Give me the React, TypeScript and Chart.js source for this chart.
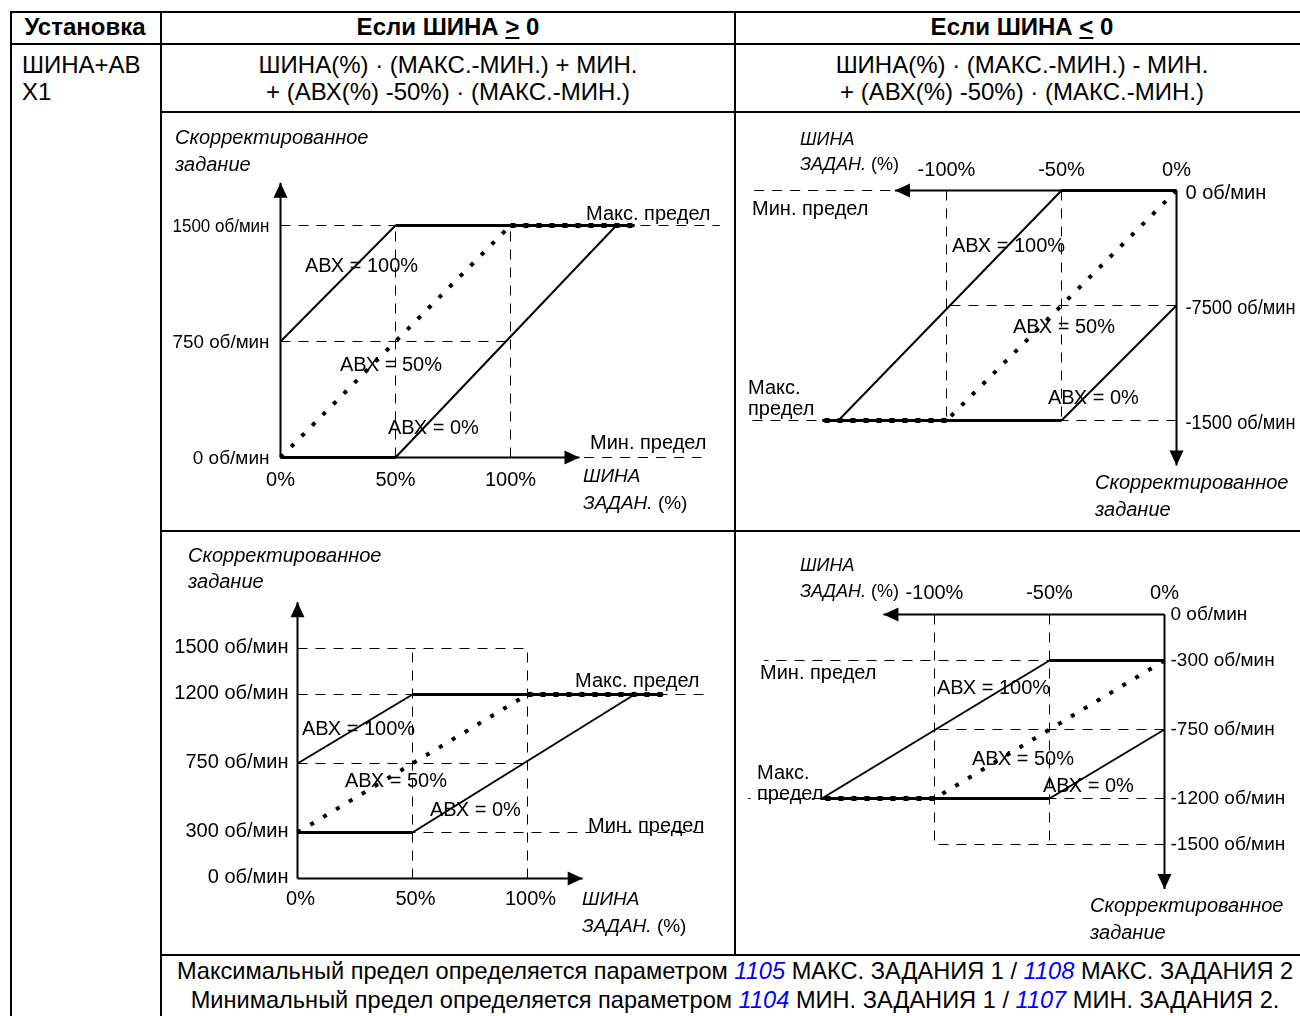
import React, { useEffect, useRef } from "react";
import { Chart, registerables } from "chart.js";

Chart.register(...registerables);

// ================= DATA =================
// Diagram A: ШИНА >= 0, МИН = 0, МАКС = 1500
const aXTicks = [0, 50, 100];
const aXTickLabels = ["0%", "50%", "100%"];
const aYTicks = [0, 750, 1500];
const aYTickLabels = ["0 об/мин", "750 об/мин", "1500 об/мин"];
const aAbx100 = [[0, 750], [50, 1500]];
const aAbx50 = [[0, 0], [100, 1500]];
const aAbx0 = [[50, 0], [146, 1500]];
const aMaxLimit = [[50, 1500], [154, 1500]];
const aMaxLimitDotted = [[100, 1500], [154, 1500]];
const aMinLimit = [[0, 0], [50, 0]];
const aGuides = [
  [[0, 1500], [191, 1500]],
  [[0, 750], [100, 750]],
  [[50, 0], [50, 1500]],
  [[100, 0], [100, 1500]],
  [[132, 0], [183, 0]],
];
const aXAxis = [[0, 0], [130, 0]];
const aYAxis = [[0, 0], [0, 1777]];

// Diagram B: ШИНА <= 0, МИН = 0, МАКС = 1500
const bXTicks = [0, -50, -100];
const bXTickLabels = ["0%", "-50%", "-100%"];
const bYTicks = [0, -750, -1500];
const bYTickLabels = ["0 об/мин", "-7500 об/мин", "-1500 об/мин"];
const bAbx100 = [[-50, 0], [-147, -1500]];
const bAbx50 = [[0, 0], [-100, -1500]];
const bAbx0 = [[0, -750], [-50, -1500]];
const bMaxLimit = [[-50, -1500], [-154, -1500]];
const bMaxLimitDotted = [[-100, -1500], [-154, -1500]];
const bMinLimit = [[0, 0], [-50, 0]];
const bGuides = [
  [[-124.5, 0], [-184, 0]],
  [[0, -750], [-100, -750]],
  [[0, -1500], [-186, -1500]],
  [[-100, 0], [-100, -1500]],
  [[-50, 0], [-50, -1500]],
];
const bXAxis = [[0, 0], [-122.4, 0]];
const bYAxis = [[0, 0], [0, -1793]];

// Diagram C: ШИНА >= 0, МИН = 300, МАКС = 1200
const cXTicks = [0, 50, 100];
const cXTickLabels = ["0%", "50%", "100%"];
const cYTicks = [0, 300, 750, 1200, 1500];
const cYTickLabels = ["0 об/мин", "300 об/мин", "750 об/мин", "1200 об/мин", "1500 об/мин"];
const cAbx100 = [[0, 750], [50, 1200]];
const cAbx50 = [[0, 300], [100, 1200]];
const cAbx0 = [[50, 300], [146.5, 1200]];
const cMaxLimit = [[50, 1200], [159, 1200]];
const cMaxLimitDotted = [[100, 1200], [159, 1200]];
const cMinLimit = [[0, 300], [50, 300]];
const cGuides = [
  [[0, 1500], [100, 1500]],
  [[0, 1200], [178, 1200]],
  [[0, 750], [100, 750]],
  [[0, 300], [177, 300]],
  [[50, 0], [50, 1500]],
  [[100, 0], [100, 1500]],
];
const cXAxis = [[0, 0], [124, 0]];
const cYAxis = [[0, 0], [0, 1802]];

// Diagram D: ШИНА <= 0, МИН = 300, МАКС = 1200
const dXTicks = [0, -50, -100];
const dXTickLabels = ["0%", "-50%", "-100%"];
const dYTicks = [0, -300, -750, -1200, -1500];
const dYTickLabels = ["0 об/мин", "-300 об/мин", "-750 об/мин", "-1200 об/мин", "-1500 об/мин"];
const dAbx100 = [[-50, -300], [-149, -1200]];
const dAbx50 = [[0, -300], [-100, -1200]];
const dAbx0 = [[0, -750], [-50, -1200]];
const dMaxLimit = [[-50, -1200], [-149, -1200]];
const dMaxLimitDotted = [[-100, -1200], [-149, -1200]];
const dMinLimit = [[0, -300], [-50, -300]];
const dGuides = [
  [[0, -300], [-174, -300]],
  [[0, -750], [-100, -750]],
  [[0, -1200], [-181, -1200]],
  [[0, -1500], [-100, -1500]],
  [[-100, 0], [-100, -1500]],
  [[-50, 0], [-50, -1500]],
];
const dXAxis = [[0, 0], [-122.2, 0]];
const dYAxis = [[0, 0], [0, -1790]];

// Text strings
const txtCorr = "Скорректированное";
const txtTask = "задание";
const txtBus = "ШИНА";
const txtBusRef = "ЗАДАН.";
const txtPct = " (%)";
const txtMax = "Макс. предел";
const txtMin = "Мин. предел";
const txtMaxA = "Макс.";
const txtMaxB = "предел";
const abxLabels = ["АВХ = 100%", "АВХ = 50%", "АВХ = 0%"];

// ================= DRAWING =================
const FAMILY = "'Liberation Sans', Arial, Helvetica, sans-serif";
const font = (size: number, italic?: boolean) => `${italic ? "italic " : ""}${size}px ${FAMILY}`;

type Seg = { s: string; i?: boolean };
type Txt = { segs: Seg[]; x: number; y: number; size?: number };
type Spec = {
  rect: { left: number; top: number; w: number; h: number };
  x0: number; y0: number; kx: number; ky: number;
  axes: number[][][];
  guides: number[][][];
  thin: number[][][];
  bold: number[][][];
  dotted: number[][];
  dottedBold: number[][];
  xTicks: number[]; xTickLabels: string[]; xLabelDy: number; xLabelDx: number;
  yTicks: number[]; yTickLabels: string[]; yLabelDx: number; yLabelDy: number; yRight: boolean;
  yFont: number; yMaxW?: number;
  texts: Txt[];
};

const P = (pts: number[][]) => pts.map(([x, y]) => ({ x, y }));

function ds(pts: number[][], width: number, dash: number[] = []) {
  return {
    data: P(pts),
    borderColor: "#000",
    backgroundColor: "#000",
    borderWidth: width,
    borderDash: dash,
    borderCapStyle: "butt",
    borderJoinStyle: "miter",
    pointRadius: 0,
    pointHoverRadius: 0,
    fill: false,
    tension: 0,
  };
}

function drawExtras(chart: any, spec: Spec) {
  const ctx = chart.ctx as CanvasRenderingContext2D;
  const xs = chart.scales.x;
  const ys = chart.scales.y;
  const px = (v: number) => xs.getPixelForValue(v);
  const py = (v: number) => ys.getPixelForValue(v);
  ctx.save();
  ctx.fillStyle = "#000";
  // arrow heads
  for (const ax of spec.axes) {
    const a = ax[ax.length - 2];
    const b = ax[ax.length - 1];
    const x1 = px(a[0]), y1 = py(a[1]), x2 = px(b[0]), y2 = py(b[1]);
    const L = Math.hypot(x2 - x1, y2 - y1);
    const dx = (x2 - x1) / L, dy = (y2 - y1) / L;
    const bx = x2 - dx * 15, by = y2 - dy * 15;
    ctx.beginPath();
    ctx.moveTo(x2, y2);
    ctx.lineTo(bx - dy * 7, by + dx * 7);
    ctx.lineTo(bx + dy * 7, by - dx * 7);
    ctx.closePath();
    ctx.fill();
  }
  ctx.textBaseline = "middle";
  const ox = px(0), oy = py(0);
  ctx.font = font(20);
  spec.xTicks.forEach((t, i) => {
    ctx.textAlign = "center";
    ctx.fillText(spec.xTickLabels[i], px(t) + spec.xLabelDx, oy + spec.xLabelDy);
  });
  ctx.font = font(spec.yFont);
  spec.yTicks.forEach((t, i) => {
    ctx.textAlign = spec.yRight ? "left" : "right";
    if (spec.yMaxW) ctx.fillText(spec.yTickLabels[i], ox + spec.yLabelDx, py(t) + spec.yLabelDy, spec.yMaxW);
    else ctx.fillText(spec.yTickLabels[i], ox + spec.yLabelDx, py(t) + spec.yLabelDy);
  });
  ctx.textAlign = "left";
  for (const t of spec.texts) {
    let x = t.x - spec.rect.left;
    const y = t.y - spec.rect.top;
    for (const sg of t.segs) {
      ctx.font = font(t.size ?? 20, sg.i);
      ctx.fillText(sg.s, x, y);
      x += ctx.measureText(sg.s).width;
    }
  }
  ctx.restore();
}

function buildConfig(spec: Spec): any {
  const { rect, x0, y0, kx, ky } = spec;
  const xmin = (rect.left - x0) / kx;
  const xmax = (rect.left + rect.w - x0) / kx;
  const ymax = (y0 - rect.top) / ky;
  const ymin = (y0 - (rect.top + rect.h)) / ky;
  const datasets: any[] = [];
  datasets.push(ds(spec.dottedBold, 5, [5, 8]));
  datasets.push(ds(spec.dotted, 4, [4, 11]));
  spec.bold.forEach((b) => datasets.push(ds(b, 3)));
  spec.thin.forEach((b) => datasets.push(ds(b, 2)));
  spec.axes.forEach((b) => datasets.push(ds(b, 2)));
  spec.guides.forEach((b) => datasets.push(ds(b, 1, [10, 8])));
  return {
    type: "line",
    data: { datasets },
    options: {
      responsive: false,
      maintainAspectRatio: false,
      animation: false,
      events: [],
      layout: { padding: 0 },
      plugins: { legend: { display: false }, tooltip: { enabled: false } },
      scales: {
        x: { type: "linear", min: xmin, max: xmax, display: false },
        y: { type: "linear", min: ymin, max: ymax, display: false },
      },
    },
    plugins: [
      {
        id: "schematic",
        afterDatasetsDraw(chart: any) {
          drawExtras(chart, spec);
        },
      },
    ],
  };
}

const specA: Spec = {
  rect: { left: 162, top: 113, w: 572, h: 417 },
  x0: 280.5, y0: 457.5, kx: 2.3, ky: 116 / 750,
  axes: [aXAxis, aYAxis],
  guides: aGuides,
  thin: [aAbx100, aAbx0],
  bold: [aMaxLimit, aMinLimit],
  dotted: aAbx50,
  dottedBold: aMaxLimitDotted,
  xTicks: aXTicks, xTickLabels: aXTickLabels, xLabelDy: 23, xLabelDx: 0,
  yTicks: aYTicks, yTickLabels: aYTickLabels, yLabelDx: -11, yLabelDy: 1, yRight: false,
  yFont: 19, yMaxW: 97,
  texts: [
    { segs: [{ s: txtCorr, i: true }], x: 175, y: 138 },
    { segs: [{ s: txtTask, i: true }], x: 175, y: 165 },
    { segs: [{ s: txtMax }], x: 586, y: 214 },
    { segs: [{ s: txtMin }], x: 590, y: 443 },
    { segs: [{ s: txtBus, i: true }], x: 583, y: 477, size: 19 },
    { segs: [{ s: txtBusRef, i: true }, { s: txtPct }], x: 583, y: 504, size: 19 },
    { segs: [{ s: abxLabels[0] }], x: 305, y: 266 },
    { segs: [{ s: abxLabels[1] }], x: 340, y: 365 },
    { segs: [{ s: abxLabels[2] }], x: 388, y: 428 },
  ],
};

const specB: Spec = {
  rect: { left: 736, top: 113, w: 564, h: 417 },
  x0: 1176.5, y0: 190.5, kx: 2.3, ky: 115 / 750,
  axes: [bXAxis, bYAxis],
  guides: bGuides,
  thin: [bAbx100, bAbx0],
  bold: [bMaxLimit, bMinLimit],
  dotted: bAbx50,
  dottedBold: bMaxLimitDotted,
  xTicks: bXTicks, xTickLabels: bXTickLabels, xLabelDy: -20, xLabelDx: 0,
  yTicks: bYTicks, yTickLabels: bYTickLabels, yLabelDx: 9, yLabelDy: 3, yRight: true,
  yFont: 20, yMaxW: 110,
  texts: [
    { segs: [{ s: txtBus, i: true }], x: 800, y: 140, size: 18 },
    { segs: [{ s: txtBusRef, i: true }, { s: txtPct }], x: 800, y: 165, size: 18 },
    { segs: [{ s: txtMin }], x: 752, y: 209 },
    { segs: [{ s: txtMaxA }], x: 748, y: 388 },
    { segs: [{ s: txtMaxB }], x: 748, y: 409 },
    { segs: [{ s: abxLabels[0] }], x: 952, y: 246 },
    { segs: [{ s: abxLabels[1] }], x: 1013, y: 327 },
    { segs: [{ s: abxLabels[2] }], x: 1048, y: 398 },
    { segs: [{ s: txtCorr, i: true }], x: 1095, y: 483 },
    { segs: [{ s: txtTask, i: true }], x: 1095, y: 510 },
  ],
};

const specC: Spec = {
  rect: { left: 162, top: 532, w: 572, h: 422 },
  x0: 297.5, y0: 878.5, kx: 2.3, ky: 230 / 1500,
  axes: [cXAxis, cYAxis],
  guides: cGuides,
  thin: [cAbx100, cAbx0],
  bold: [cMaxLimit, cMinLimit],
  dotted: cAbx50,
  dottedBold: cMaxLimitDotted,
  xTicks: cXTicks, xTickLabels: cXTickLabels, xLabelDy: 21, xLabelDx: 3,
  yTicks: cYTicks, yTickLabels: cYTickLabels, yLabelDx: -9, yLabelDy: -1, yRight: false,
  yFont: 20,
  texts: [
    { segs: [{ s: txtCorr, i: true }], x: 188, y: 556 },
    { segs: [{ s: txtTask, i: true }], x: 188, y: 582 },
    { segs: [{ s: txtMax }], x: 575, y: 681 },
    { segs: [{ s: txtMin }], x: 588, y: 826 },
    { segs: [{ s: txtBus, i: true }], x: 582, y: 900, size: 19 },
    { segs: [{ s: txtBusRef, i: true }, { s: txtPct }], x: 582, y: 927, size: 19 },
    { segs: [{ s: abxLabels[0] }], x: 302, y: 729 },
    { segs: [{ s: abxLabels[1] }], x: 345, y: 781 },
    { segs: [{ s: abxLabels[2] }], x: 430, y: 810 },
  ],
};

const specD: Spec = {
  rect: { left: 736, top: 532, w: 564, h: 422 },
  x0: 1164.5, y0: 614.5, kx: 2.3, ky: 230 / 1500,
  axes: [dXAxis, dYAxis],
  guides: dGuides,
  thin: [dAbx100, dAbx0],
  bold: [dMaxLimit, dMinLimit],
  dotted: dAbx50,
  dottedBold: dMaxLimitDotted,
  xTicks: dXTicks, xTickLabels: dXTickLabels, xLabelDy: -21, xLabelDx: 0,
  yTicks: dYTicks, yTickLabels: dYTickLabels, yLabelDx: 6, yLabelDy: 0, yRight: true,
  yFont: 19,
  texts: [
    { segs: [{ s: txtBus, i: true }], x: 800, y: 566, size: 18 },
    { segs: [{ s: txtBusRef, i: true }, { s: txtPct }], x: 800, y: 592, size: 18 },
    { segs: [{ s: txtMin }], x: 760, y: 673 },
    { segs: [{ s: txtMaxA }], x: 757, y: 773 },
    { segs: [{ s: txtMaxB }], x: 757, y: 794 },
    { segs: [{ s: abxLabels[0] }], x: 937, y: 688 },
    { segs: [{ s: abxLabels[1] }], x: 972, y: 759 },
    { segs: [{ s: abxLabels[2] }], x: 1043, y: 786 },
    { segs: [{ s: txtCorr, i: true }], x: 1090, y: 906 },
    { segs: [{ s: txtTask, i: true }], x: 1090, y: 933 },
  ],
};

const specs = [specA, specB, specC, specD];

function Diagram({ spec }: { spec: Spec }) {
  const ref = useRef<HTMLCanvasElement>(null);
  useEffect(() => {
    const chart = new Chart(ref.current as HTMLCanvasElement, buildConfig(spec));
    return () => chart.destroy();
  }, [spec]);
  const r = spec.rect;
  return (
    <canvas
      ref={ref}
      width={r.w}
      height={r.h}
      style={{ position: "absolute", left: r.left, top: r.top, width: r.w, height: r.h }}
    />
  );
}

function HL({ x1, x2, y }: { x1: number; x2: number; y: number }) {
  return <div style={{ position: "absolute", left: x1, top: y - 1, width: x2 - x1, height: 2, background: "#000" }} />;
}
function VL({ x, y1, y2 }: { x: number; y1: number; y2: number }) {
  return <div style={{ position: "absolute", left: x - 1, top: y1, width: 2, height: y2 - y1, background: "#000" }} />;
}

function T({ x, y, center, bold, size, children }: any) {
  return (
    <div
      style={{
        position: "absolute",
        left: x,
        top: y,
        transform: `translate(${center ? "-50%" : "0"}, -50%)`,
        whiteSpace: "nowrap",
        fontSize: size,
        fontWeight: bold ? "bold" : "normal",
        lineHeight: 1,
      }}
    >
      {children}
    </div>
  );
}

const blue: React.CSSProperties = { color: "#0000ff", fontStyle: "italic" };

export default function App() {
  return (
    <div
      style={{
        position: "absolute",
        left: 0,
        top: 0,
        width: 1300,
        height: 1016,
        overflow: "hidden",
        background: "#fff",
        color: "#000",
        fontFamily: FAMILY,
      }}
    >
      <HL x1={10} x2={1310} y={12} />
      <HL x1={10} x2={1310} y={44} />
      <HL x1={161} x2={1310} y={112} />
      <HL x1={161} x2={1310} y={531} />
      <HL x1={161} x2={1310} y={955} />
      <VL x={11} y1={11} y2={1016} />
      <VL x={161} y1={11} y2={1016} />
      <VL x={735} y1={11} y2={955} />

      <T x={85} y={27} center bold size={24}>Установка</T>
      <T x={448} y={27} center bold size={24}>
        Если ШИНА <span style={{ textDecoration: "underline" }}>&gt;</span> 0
      </T>
      <T x={1022} y={27} center bold size={24}>
        Если ШИНА <span style={{ textDecoration: "underline" }}>&lt;</span> 0
      </T>

      <T x={22} y={65} size={24}>ШИНА+АВ</T>
      <T x={22} y={92} size={24}>Х1</T>
      <T x={448} y={65} center size={24}>ШИНА(%) · (МАКС.-МИН.) + МИН.</T>
      <T x={448} y={92} center size={24}>+ (АВХ(%) -50%) · (МАКС.-МИН.)</T>
      <T x={1022} y={65} center size={24}>ШИНА(%) · (МАКС.-МИН.) - МИН.</T>
      <T x={1022} y={92} center size={24}>+ (АВХ(%) -50%) · (МАКС.-МИН.)</T>

      <T x={735} y={972} center size={23.6}>
        Максимальный предел определяется параметром <span style={blue}>1105</span> МАКС. ЗАДАНИЯ 1 /{" "}
        <span style={blue}>1108</span> МАКС. ЗАДАНИЯ 2
      </T>
      <T x={735} y={1001} center size={23.6}>
        Минимальный предел определяется параметром <span style={blue}>1104</span> МИН. ЗАДАНИЯ 1 /{" "}
        <span style={blue}>1107</span> МИН. ЗАДАНИЯ 2.
      </T>

      {specs.map((s, i) => (
        <Diagram key={i} spec={s} />
      ))}
    </div>
  );
}
